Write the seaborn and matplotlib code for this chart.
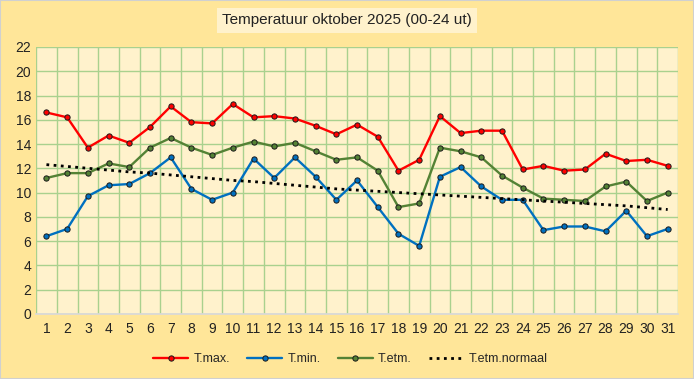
import matplotlib
matplotlib.use("Agg")
import matplotlib.pyplot as plt
import seaborn as sns
import pandas as pd
from matplotlib.patches import Rectangle

days = list(range(1, 32))
t_max = [16.6, 16.2, 13.7, 14.7, 14.1, 15.4, 17.1, 15.8, 15.7, 17.3, 16.2, 16.3, 16.1, 15.5, 14.8, 15.6,
         14.6, 11.8, 12.7, 16.3, 14.9, 15.1, 15.1, 11.9, 12.2, 11.8, 11.9, 13.2, 12.6, 12.7, 12.2]
t_min = [6.4, 7.0, 9.7, 10.6, 10.7, 11.6, 12.9, 10.3, 9.4, 10.0, 12.8, 11.2, 12.9, 11.3, 9.4, 11.0,
         8.8, 6.6, 5.6, 11.3, 12.1, 10.5, 9.4, 9.4, 6.9, 7.2, 7.2, 6.8, 8.5, 6.4, 7.0]
t_etm = [11.2, 11.6, 11.6, 12.4, 12.1, 13.7, 14.5, 13.7, 13.1, 13.7, 14.2, 13.8, 14.1, 13.4, 12.7, 12.9,
         11.8, 8.8, 9.1, 13.7, 13.4, 12.9, 11.4, 10.4, 9.5, 9.4, 9.3, 10.5, 10.9, 9.3, 10.0]
t_normaal = [12.3, 12.15, 12.0, 11.85, 11.7, 11.6, 11.45, 11.3, 11.15, 11.0, 10.9, 10.75, 10.6, 10.45,
             10.3, 10.2, 10.1, 10.0, 9.9, 9.8, 9.7, 9.6, 9.5, 9.4, 9.3, 9.2, 9.1, 9.0, 8.9, 8.75, 8.6]

df = pd.DataFrame({"dag": days, "T.max.": t_max, "T.min.": t_min,
                   "T.etm.": t_etm, "T.etm.normaal": t_normaal})

sns.set_theme(style="white")
plt.rcParams["font.family"] = ["Liberation Sans", "DejaVu Sans"]

fig = plt.figure(figsize=(6.94, 3.79), dpi=100)
fig.patch.set_facecolor("#FFE699")
fig.patches.append(Rectangle((0, 0), 1, 1, transform=fig.transFigure, fill=False,
                             edgecolor="#D0D0D0", linewidth=1.5, zorder=10))
ax = fig.add_axes([0.052, 0.172, 0.925, 0.704])
ax.set_facecolor("#FFF2CC")

# -------------------------------
# grid
# -------------------------------
ax.set_xlim(0.5, 31.5)
ax.set_ylim(0, 22)
ax.set_yticks(range(0, 23, 2))
ax.set_xticks(days)
ax.set_xticks([d + 0.5 for d in range(0, 32)], minor=True)
ax.grid(True, which="minor", axis="x", color="#A9D18E", linewidth=1.0)
ax.grid(True, which="major", axis="y", color="#A9D18E", linewidth=1.0)
ax.set_axisbelow(True)
ax.tick_params(axis="both", which="both", length=0, labelsize=10, colors="#222222")
ax.tick_params(axis="x", pad=6)
for s in ["top", "right", "left"]:
    ax.spines[s].set_visible(False)
ax.spines["bottom"].set_color("#D9D9D9")

# -------------------------------
# lines
# -------------------------------
series = [("T.max.", "#FF0000"), ("T.min.", "#0070C0"), ("T.etm.", "#548235")]
for name, col in series:
    sns.lineplot(data=df, x="dag", y=name, ax=ax, color=col, linewidth=1.7,
                 marker="o", markersize=3.8, markerfacecolor=col,
                 markeredgecolor="#1a1a1a", markeredgewidth=0.7, label=name)
sns.lineplot(data=df, x="dag", y="T.etm.normaal", ax=ax, color="black",
             linewidth=2.0, linestyle=(0, (1, 1.6)), label="T.etm.normaal")

ax.set_xlabel("")
ax.set_ylabel("")

leg = ax.legend(loc="upper center", bbox_to_anchor=(0.49, -0.105), ncol=4, frameon=False,
                fontsize=9, handlelength=2.8, columnspacing=1.4, handletextpad=0.4)

fig.text(0.5, 0.946, "Temperatuur oktober 2025 (00-24 ut)", ha="center", va="center",
         fontsize=11, color="#222222",
         bbox=dict(boxstyle="square,pad=0.35", facecolor="#FFF2CC", edgecolor="none"))

fig.savefig("out.png", dpi=100, facecolor=fig.get_facecolor())
